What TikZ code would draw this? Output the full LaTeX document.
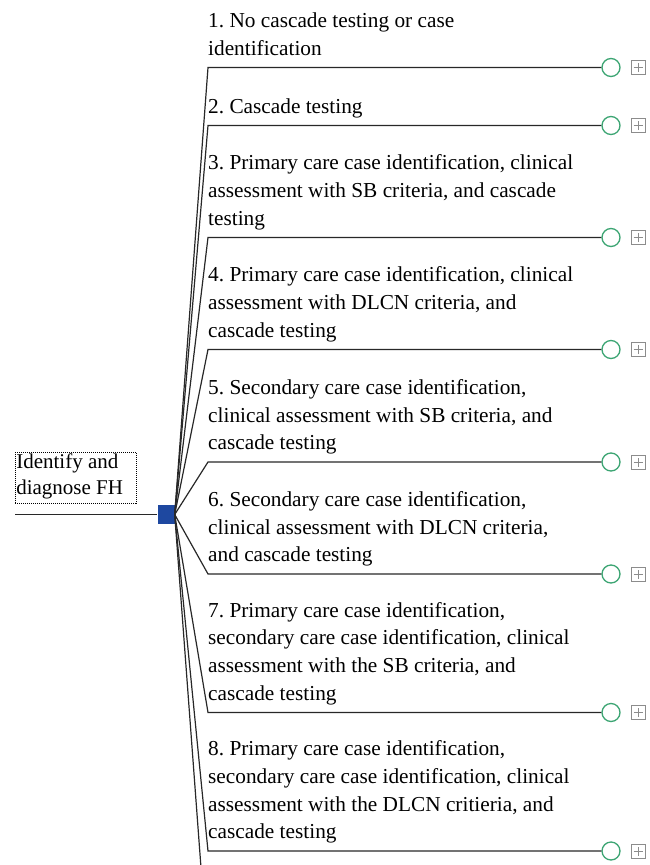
\documentclass[tikz,border=0pt]{standalone}
\usepackage{fontspec}
\setmainfont{Liberation Serif}
\frenchspacing
\definecolor{hubblue}{RGB}{30,72,160}
\definecolor{cgreen}{RGB}{60,165,115}
\definecolor{pgray}{RGB}{140,140,140}
\definecolor{lcol}{RGB}{40,40,40}
\begin{document}
\begin{tikzpicture}[x=1pt,y=-1pt,
  conn/.style={draw=lcol,line width=1.2pt},
  branchtext/.style={anchor=south west,inner sep=0pt,align=left,
     font={\fontsize{21.3}{27.7}\selectfont},text depth=3pt},
  endcircle/.style={circle,draw=cgreen,line width=1.3pt,minimum size=18pt,inner sep=0pt,fill=white},
  plusbox/.style={rectangle,draw=pgray,line width=0.9pt,minimum size=14pt,inner sep=0pt},
  hubsq/.style={rectangle,fill=hubblue,minimum width=17pt,minimum height=19pt,inner sep=0pt},
  rootlabel/.style={anchor=north west,draw=black,line width=0.6pt,dash pattern=on 1pt off 1pt,
     inner sep=1pt,text width=119pt,align=flush left,font={\fontsize{21}{26}\selectfont}}]
\useasboundingbox (0,0) rectangle (650,865);
\fill[white] (0,0) rectangle (650,865);

% root
\node[rootlabel] (root) at (15,452) {Identify and\\diagnose FH\strut};
\node[hubsq] (hub) at (166,514.5) {};
\coordinate (lstart) at (15,514.5);
\draw[conn] (lstart) -- (hub.west);

% branches
\foreach \i/\y/\txt in {
 1/67.5/{1. No cascade testing or case\\identification},
 2/125.5/{2. Cascade testing},
 3/237.5/{3. Primary care case identification, clinical\\assessment with SB criteria, and cascade\\testing},
 4/349.5/{4. Primary care case identification, clinical\\assessment with DLCN criteria, and\\cascade testing},
 5/462/{5. Secondary care case identification,\\clinical assessment with SB criteria, and\\cascade testing},
 6/574/{6. Secondary care case identification,\\clinical assessment with DLCN criteria,\\and cascade testing},
 7/712.5/{7. Primary care case identification,\\secondary care case identification, clinical\\assessment with the SB criteria, and\\cascade testing},
 8/851/{8. Primary care case identification,\\secondary care case identification, clinical\\assessment with the DLCN critieria, and\\cascade testing}}
{
  \coordinate (e\i) at (208,\y);
  \node[endcircle] (c\i) at (611,\y) {};
  \node[plusbox] (p\i) at (638,\y) {};
  \draw[pgray,line width=0.9pt] ([xshift=-4.5pt]p\i.center) -- ([xshift=4.5pt]p\i.center)
        ([yshift=-4.5pt]p\i.center) -- ([yshift=4.5pt]p\i.center);
  \node[branchtext] (t\i) at (208,\y-9) {\txt};
  \draw[conn] (hub.east) -- (e\i) -- (c\i.west);
}
% cut-off branch
\coordinate (e9) at (200.8,865);
\draw[conn] (hub.east) -- (e9);
\end{tikzpicture}
\end{document}
